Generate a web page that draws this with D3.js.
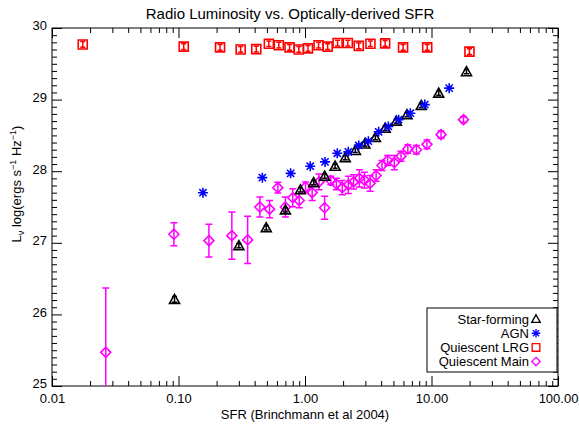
<!DOCTYPE html>
<html>
<head>
<meta charset="utf-8">
<script src="https://cdn.jsdelivr.net/npm/d3@7"></script>
<style>
  body { margin: 0; background: #fff; }
  #graf { width: 579px; height: 424px; }
  text { font-family: "Liberation Sans", Arial, sans-serif; fill: #000; }
  .eje path, .eje line { stroke: #000; stroke-width: 1; }
  .eje text { font-size: 13px; }
</style>
</head>
<body>
<div id="graf"></div>
<script>
// Star-forming (triangles)
const sfrSF = [0.093, 0.30, 0.494, 0.70, 0.92, 1.17, 1.43, 1.73, 2.08, 2.5, 2.97, 3.6, 4.3, 5.27, 6.4, 8.3, 11.4, 18.9];
const lumSF = [26.21, 26.96, 27.21, 27.46, 27.74, 27.84, 27.93, 28.07, 28.19, 28.29, 28.38, 28.47, 28.60, 28.70, 28.79, 28.92, 29.09, 29.39];
const errSF = [0.04, 0.03, 0.03, 0.03, 0.03, 0.03, 0.03, 0.03, 0.03, 0.03, 0.03, 0.03, 0.03, 0.03, 0.03, 0.03, 0.03, 0.03];

// AGN (asterisks)
const sfrAGN = [0.156, 0.46, 0.77, 1.10, 1.44, 1.80, 2.2, 2.66, 3.17, 3.82, 4.56, 5.5, 6.8, 8.85, 13.8];
const lumAGN = [27.70, 27.91, 27.97, 28.07, 28.13, 28.25, 28.27, 28.36, 28.42, 28.55, 28.625, 28.72, 28.81, 28.93, 29.16];

// Quiescent LRG (squares)
const sfrLRG = [0.0175, 0.110, 0.213, 0.310, 0.412, 0.518, 0.621, 0.755, 0.894, 1.056, 1.28, 1.51, 1.81, 2.18, 2.66, 3.29, 4.30, 5.96, 9.25, 19.95];
const lumLRG = [29.77, 29.74, 29.73, 29.70, 29.705, 29.78, 29.76, 29.73, 29.70, 29.715, 29.76, 29.74, 29.79, 29.79, 29.75, 29.78, 29.785, 29.73, 29.73, 29.67];
const errLRG = [0.04, 0.04, 0.04, 0.04, 0.04, 0.04, 0.04, 0.04, 0.04, 0.04, 0.04, 0.04, 0.04, 0.04, 0.04, 0.04, 0.04, 0.04, 0.04, 0.04];

// Quiescent Main (diamonds)
const sfrMain = [0.0266, 0.092, 0.174, 0.264, 0.352, 0.44, 0.525, 0.61, 0.70, 0.80, 0.90, 1.01, 1.14, 1.29, 1.43, 1.60, 1.77, 1.97, 2.20, 2.42, 2.69, 2.95, 3.27, 3.65, 4.06, 4.5, 5.08, 5.74, 6.5, 7.6, 9.2, 11.9, 17.9];
const lumMain = [25.47, 27.12, 27.03, 27.10, 27.04, 27.50, 27.47, 27.77, 27.50, 27.63, 27.59, 27.78, 27.70, 27.85, 27.49, 27.87, 27.82, 27.77, 27.81, 27.85, 27.90, 27.875, 27.83, 27.94, 28.08, 28.15, 28.12, 28.21, 28.31, 28.30, 28.375, 28.51, 28.72];
const errMain = [0.9, 0.16, 0.23, 0.33, 0.33, 0.14, 0.12, 0.075, 0.14, 0.125, 0.1, 0.07, 0.11, 0.11, 0.16, 0.06, 0.08, 0.1, 0.12, 0.1, 0.12, 0.11, 0.11, 0.08, 0.07, 0.07, 0.1, 0.07, 0.06, 0.06, 0.06, 0.05, 0.04];

const xTicks = [0.01, 0.1, 1, 10, 100];
const xTickLabels = ["0.01", "0.10", "1.00", "10.00", "100.00"];
const yTicks = [25, 26, 27, 28, 29, 30];

const legendNames = ["Star-forming", "AGN", "Quiescent LRG", "Quiescent Main"];

const graf = d3.select("#graf");
const ancho_total = 579;
const alto_total = 424;
const margins = { top: 28, left: 52, right: 21, bottom: 38 };
const ancho = ancho_total - margins.left - margins.right;
const alto = alto_total - margins.top - margins.bottom;

const svg = graf.append("svg").attr("width", ancho_total).attr("height", alto_total);
const g = svg.append("g").attr("transform", `translate(${margins.left}, ${margins.top})`);

const x = d3.scaleLog().domain([0.01, 100]).range([0, ancho]);
const y = d3.scaleLinear().domain([25, 30]).range([alto, 0]);

// minor ticks
const xMinor = [];
for (let d = 0.01; d < 100; d *= 10) for (let k = 2; k <= 9; k++) xMinor.push(d * k);
const yMinor = d3.range(250, 301).map(v => v / 10).filter(v => !Number.isInteger(v));

function ejes(sel, axis, values, size, fmt, pad) {
  sel.call(axis.tickValues(values).tickSize(-size).tickSizeOuter(0).tickPadding(pad).tickFormat(fmt))
    .call(s => s.select(".domain").remove());
}

const noLabel = () => "";
const xb = g.append("g").attr("class", "eje").attr("transform", `translate(0, ${alto})`);
ejes(xb, d3.axisBottom(x), xTicks, 10, (d, i) => xTickLabels[i], 8);
const xbm = g.append("g").attr("class", "eje").attr("transform", `translate(0, ${alto})`);
ejes(xbm, d3.axisBottom(x), xMinor, 5, noLabel, 0);
const xt = g.append("g").attr("class", "eje");
ejes(xt, d3.axisTop(x), xTicks, 10, noLabel, 0);
const xtm = g.append("g").attr("class", "eje");
ejes(xtm, d3.axisTop(x), xMinor, 5, noLabel, 0);

const yl = g.append("g").attr("class", "eje");
ejes(yl, d3.axisLeft(y), yTicks, 10, d3.format("d"), 5);
yl.selectAll("text").attr("dy", "0.15em");
const ylm = g.append("g").attr("class", "eje");
ejes(ylm, d3.axisLeft(y), yMinor, 5, noLabel, 0);
const yr = g.append("g").attr("class", "eje").attr("transform", `translate(${ancho}, 0)`);
ejes(yr, d3.axisRight(y), yTicks, 10, noLabel, 0);
const yrm = g.append("g").attr("class", "eje").attr("transform", `translate(${ancho}, 0)`);
ejes(yrm, d3.axisRight(y), yMinor, 5, noLabel, 0);

g.append("rect").attr("width", ancho).attr("height", alto)
  .attr("fill", "none").attr("stroke", "#000").attr("stroke-width", 1);

// titles
svg.append("text").attr("x", 290).attr("y", 19).attr("text-anchor", "middle")
  .style("font-size", "15px").text("Radio Luminosity vs. Optically-derived SFR");
svg.append("text").attr("x", 305).attr("y", 419).attr("text-anchor", "middle")
  .style("font-size", "13px").text("SFR (Brinchmann et al 2004)");
const yLab = svg.append("text").attr("transform", "translate(21, 184) rotate(-90)")
  .attr("text-anchor", "middle").style("font-size", "13px");
yLab.append("tspan").text("L");
yLab.append("tspan").attr("dy", 3).style("font-size", "9px").text("ν");
yLab.append("tspan").attr("dy", -3).text(" log(ergs s");
yLab.append("tspan").attr("dy", -5).style("font-size", "9px").text("−1");
yLab.append("tspan").attr("dy", 5).text(" Hz");
yLab.append("tspan").attr("dy", -5).style("font-size", "9px").text("−1");
yLab.append("tspan").attr("dy", 5).text(")");

// marker shapes
const shapes = {
  tri: "M0,-5L5,4L-5,4Z",
  ast: "M-5,0H5M0,-5V5M-3.6,-3.6L3.6,3.6M-3.6,3.6L3.6,-3.6",
  sq: "M-4.5,-4.5H4.5V4.5H-4.5Z",
  dia: "M0,-5L5,0L0,5L-5,0Z"
};

const plot = g.append("g").attr("clip-path", "url(#clip)");
svg.append("defs").append("clipPath").attr("id", "clip")
  .append("rect").attr("width", ancho).attr("height", alto);

function errores(xs, ys, es, col, cap) {
  const d = xs.map((v, i) => ({ x: v, y: ys[i], e: es[i] }));
  const sel = plot.append("g").attr("stroke", col).attr("stroke-width", 1.5).attr("fill", "none");
  sel.selectAll("path").data(d).enter().append("path")
    .attr("d", p => {
      const cx = x(p.x), y1 = y(p.y + p.e), y2 = y(p.y - p.e);
      return `M${cx},${y1}V${y2}M${cx - cap},${y1}H${cx + cap}M${cx - cap},${y2}H${cx + cap}`;
    });
}

function puntos(xs, ys, col, shape) {
  plot.append("g").selectAll("path").data(xs.map((v, i) => [v, ys[i]])).enter().append("path")
    .attr("transform", p => `translate(${x(p[0])}, ${y(p[1])})`)
    .attr("d", shapes[shape])
    .attr("fill", "none").attr("stroke", col).attr("stroke-width", 1.6);
}

errores(sfrMain, lumMain, errMain, "#ff00ff", 3.5);
puntos(sfrMain, lumMain, "#ff00ff", "dia");
errores(sfrLRG, lumLRG, errLRG, "#ff0000", 2.5);
puntos(sfrLRG, lumLRG, "#ff0000", "sq");
errores(sfrSF, lumSF, errSF, "#000", 2.5);
puntos(sfrSF, lumSF, "#000", "tri");
puntos(sfrAGN, lumAGN, "#0000ff", "ast");

// legend
const legCols = ["#000", "#0000ff", "#ff0000", "#ff00ff"];
const legShapes = ["tri", "ast", "sq", "dia"];
const leg = svg.append("g").attr("transform", "translate(427, 308)");
leg.append("rect").attr("width", 130).attr("height", 64).attr("fill", "#fff").attr("stroke", "#000");
legendNames.forEach((n, i) => {
  const yy = 11 + i * 14.2;
  leg.append("text").attr("x", 102).attr("y", yy).attr("dy", "0.35em")
    .attr("text-anchor", "end").style("font-size", "13px").text(n);
  leg.append("path").attr("transform", `translate(109, ${yy}) scale(0.85)`)
    .attr("d", shapes[legShapes[i]]).attr("fill", "none")
    .attr("stroke", legCols[i]).attr("stroke-width", 1.6);
});
</script>
</body>
</html>
